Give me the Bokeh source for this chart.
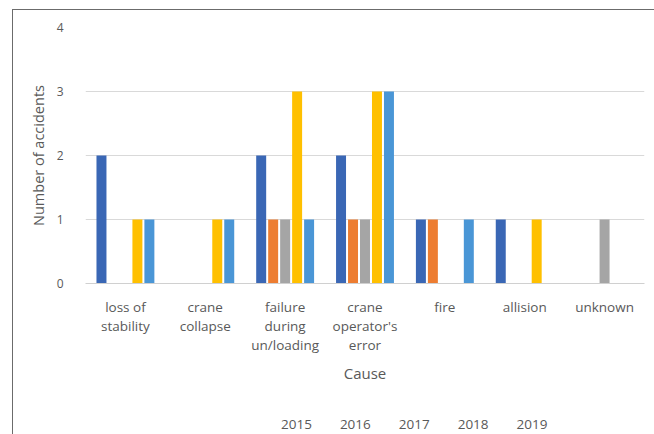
from bokeh.plotting import figure
from bokeh.layouts import column
from bokeh.models import FactorRange, Range1d, FixedTicker, Legend, LegendItem
from bokeh.transform import dodge
from bokeh.embed import file_html
from bokeh.resources import INLINE

causes = ["loss of\nstability", "crane\ncollapse", "failure\nduring\nun/loading",
          "crane\noperator's\nerror", "fire", "allision", "unknown"]
years = ["2015", "2016", "2017", "2018", "2019"]
v2015 = [2, 0, 2, 2, 1, 1, 0]
v2016 = [0, 0, 1, 1, 1, 0, 0]
v2017 = [0, 0, 1, 1, 0, 0, 1]
v2018 = [1, 1, 3, 3, 0, 1, 0]
v2019 = [1, 1, 1, 3, 1, 0, 0]
y_ticks = [0, 1, 2, 3, 4]

series = [v2015, v2016, v2017, v2018, v2019]
colors = ["#3A67B5", "#ED7D31", "#A5A5A5", "#FFC000", "#4A96D6"]
offsets = [-0.3, -0.15, 0.0, 0.15, 0.3]

FONT = "Open Sans"
TXT = "#595959"
BORDER = "1.5px solid #6b6b6b"

p = figure(frame_width=558, frame_height=255,
           x_range=FactorRange(factors=causes, range_padding=0),
           y_range=Range1d(0, 4), output_backend="svg", toolbar_location=None,
           min_border_left=72, min_border_right=11, min_border_top=17, min_border_bottom=0)
p.margin = (9, 0, 0, 12)
p.styles = {"border-left": BORDER, "border-top": BORDER}
p.outline_line_color = None
p.background_fill_color = "white"
p.border_fill_color = "white"

for yr, vals, col, off in zip(years, series, colors, offsets):
    src = {"cause": causes, "val": vals}
    p.vbar(x=dodge("cause", off, range=p.x_range), top="val", width=0.125,
           source=src, fill_color=col, line_color=None)

p.xgrid.grid_line_color = None
p.ygrid.grid_line_color = "#D9D9D9"
p.ygrid.grid_line_width = 1
p.yaxis.ticker = FixedTicker(ticks=y_ticks)

p.yaxis.axis_line_color = None
p.yaxis.major_tick_line_color = None
p.yaxis.minor_tick_line_color = None
p.yaxis.major_label_standoff = 16
p.yaxis.major_label_text_font = FONT
p.yaxis.major_label_text_font_size = "12px"
p.yaxis.major_label_text_color = TXT
p.yaxis.axis_label = "Number of accidents"
p.yaxis.axis_label_text_font = FONT
p.yaxis.axis_label_text_font_size = "14.5px"
p.yaxis.axis_label_text_font_style = "normal"
p.yaxis.axis_label_text_color = TXT
p.yaxis.axis_label_standoff = 6

p.xaxis.axis_line_color = "#D0D0D0"
p.xaxis.axis_line_width = 1
p.xaxis.major_tick_line_color = None
p.xaxis.minor_tick_line_color = None
p.xaxis.major_label_standoff = 8
p.xaxis.major_label_text_font = FONT
p.xaxis.major_label_text_font_size = "13.5px"
p.xaxis.major_label_text_color = TXT
p.xaxis.major_label_text_line_height = 1.08
p.xaxis.axis_label = "Cause"
p.xaxis.axis_label_text_font = FONT
p.xaxis.axis_label_text_font_size = "15px"
p.xaxis.axis_label_text_font_style = "normal"
p.xaxis.axis_label_text_color = TXT
p.xaxis.axis_label_standoff = 6

# legend strip below the chart
pl = figure(width=641, height=56, x_range=Range1d(0, 1), y_range=Range1d(0, 1),
            output_backend="svg", toolbar_location=None,
            x_axis_location=None, y_axis_location=None, min_border=0)
pl.margin = (0, 0, 0, 12)
pl.styles = {"border-left": BORDER}
pl.outline_line_color = None
pl.grid.visible = False
pl.background_fill_color = "white"
pl.border_fill_color = "white"

items = []
for yr, col in zip(years, colors):
    r = pl.vbar(x=[], top=[], width=0.1, fill_color=col, line_color=None)
    items.append(LegendItem(label=yr, renderers=[r]))

legend = Legend(items=items, orientation="horizontal", location=(186, 8),
                glyph_width=7, glyph_height=7, label_standoff=3, spacing=18,
                padding=0, margin=0, border_line_color=None, background_fill_alpha=0,
                label_text_font=FONT, label_text_font_size="13.5px", label_text_color=TXT,
                label_height=14)
pl.add_layout(legend, "center")

layout = column(p, pl, spacing=0)
open("out.html", "w").write(file_html(layout, INLINE))
